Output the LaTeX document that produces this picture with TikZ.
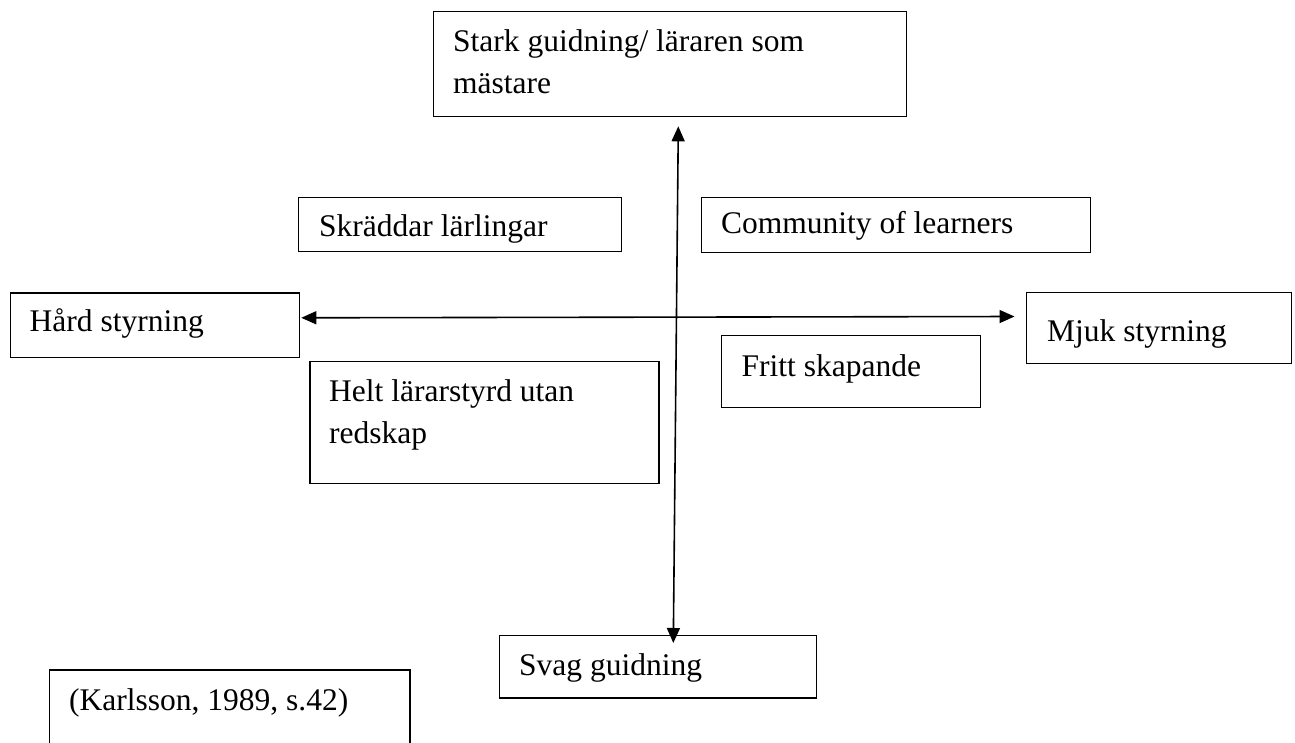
\documentclass[tikz,border=0pt]{standalone}
\usepackage{fontspec}
\setmainfont{Liberation Serif}
\usetikzlibrary{arrows.meta}
\tikzset{
  box/.style={draw=black, line width=1.3pt, inner sep=0pt, anchor=north west},
  txt/.style={inner sep=0pt, anchor=base west, align=left, font=\fontsize{31.5}{42}\selectfont},
  axis/.style={line width=1.6pt, {Triangle[length=15pt,width=13pt]}-{Triangle[length=15pt,width=13pt]}}
}
\newcommand{\mybox}[5]{% name, x1, y1, x2, y2
  \node[box, minimum width=#4pt-#2pt, minimum height=#5pt-#3pt] (#1) at (#2,#3) {};}
\begin{document}
\begin{tikzpicture}[x=1pt, y=-1pt]
\useasboundingbox (0,0) rectangle (1295,742);
\clip (0,0) rectangle (1295,742);
\fill[white] (0,0) rectangle (1295,742);
% boxes
\mybox{top}{433}{11}{906}{116}
\mybox{skr}{298}{197}{621}{251}
\mybox{com}{700.5}{197}{1090}{251.5}
\mybox{hard}{10}{292.3}{299}{356.7}
\mybox{mjuk}{1025.8}{291.7}{1290.7}{362.5}
\mybox{fritt}{720.8}{335}{979.7}{406.7}
\mybox{helt}{309.4}{360.7}{658.4}{482.7}
\mybox{svag}{499}{634.7}{815.7}{697.3}
\mybox{karl}{49}{669.3}{409.3}{760}
% texts (base = baseline of the last line)
\node[txt] (ttop) at (453,93.3) {Stark guidning/ läraren som\\mästare};
\node[txt] (tskr) at (319,236) {Skräddar lärlingar};
\node[txt] (tcom) at (721,233) {Community of learners};
\node[txt] (thard) at (29.5,331.7) {Hård styrning};
\node[txt] (tmjuk) at (1047,341.7) {Mjuk styrning};
\node[txt] (tfritt) at (741.5,376) {Fritt skapande};
\node[txt] (thelt) at (329,443) {Helt lärarstyrd utan\\redskap};
\node[txt] (tsvag) at (519,675) {Svag guidning};
\node[txt] (tkarl) at (69,710) {(Karlsson, 1989, s.42)};
% axes
\coordinate (vt) at ([xshift=245.3pt, yshift=-9pt]top.south west);
\coordinate (vb) at ([xshift=174.3pt, yshift=-8.3pt]svag.north west);
\coordinate (hl) at ([xshift=1pt, yshift=40.2pt]hard.south east);
\coordinate (hr) at ([xshift=-11.3pt, yshift=-24.8pt]mjuk.north west);
\draw[axis] (vt) -- (vb);
\draw[axis] (hl) -- (hr);
\end{tikzpicture}
\end{document}
